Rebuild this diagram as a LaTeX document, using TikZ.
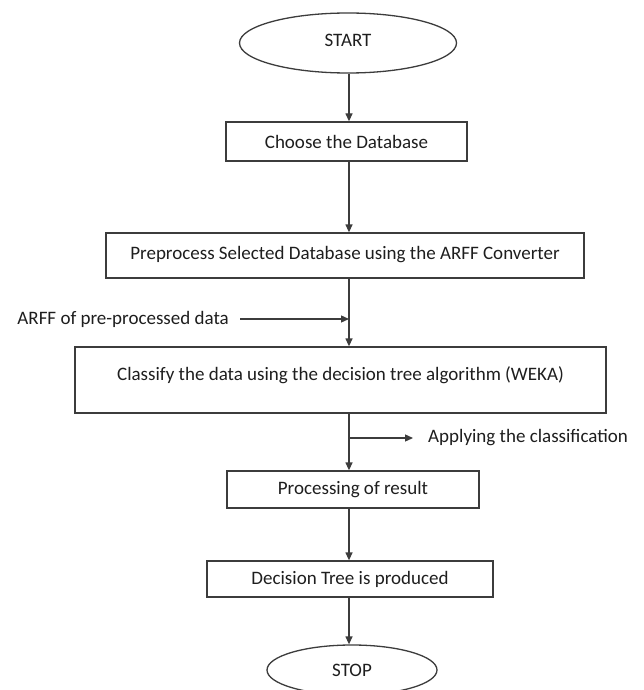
\documentclass[tikz,border=0pt]{standalone}
\usepackage{fontspec}
\setmainfont{Carlito}
\usetikzlibrary{arrows.meta,shapes.geometric}
\definecolor{linecol}{HTML}{3C3C3C}
\definecolor{textcol}{HTML}{1E1E1E}
\begin{document}
\begin{tikzpicture}[x=1pt,y=-1pt,
  font=\fontsize{19}{22}\selectfont,
  every node/.style={text=textcol},
  box/.style={draw=linecol,line width=1.3pt,rectangle,inner sep=0pt},
  oval/.style={draw=linecol,line width=1.3pt,ellipse,inner sep=0pt},
  arr/.style={draw=linecol,line width=1.3pt,-{Triangle[length=8pt,width=7pt]}},
  plain/.style={inner sep=0pt}]
\useasboundingbox[fill=white] (0,0) rectangle (643,690);

\node[oval,minimum width=217pt,minimum height=60pt] (start) at (348,43) {\raisebox{6pt}{START}};
\node[box,minimum width=241pt,minimum height=39pt] (choose) at (346.5,141.5) {Choose the Database};
\node[box,minimum width=478pt,minimum height=45pt] (prep) at (345,255.5) {\raisebox{5pt}{Preprocess Selected Database using the ARFF Converter}};
\node[box,minimum width=531pt,minimum height=66pt] (class) at (340.5,380) {\raisebox{13pt}{Classify the data using the decision tree algorithm (WEKA)}};
\node[box,minimum width=252pt,minimum height=37pt] (proc) at (353,489.5) {Processing of result};
\node[box,minimum width=286pt,minimum height=36pt] (dec) at (350,579) {Decision Tree is produced};
\node[oval,minimum width=170pt,minimum height=50pt] (stop) at (352,670) {STOP};

\node[plain,anchor=east] (arff) at (229,319) {ARFF of pre-processed data};
\node[plain,anchor=west] (app) at (428,438) {Applying the classification};

\coordinate (s1) at (349,0);

\draw[arr] (s1 |- start.south) -- (s1 |- choose.north);
\draw[arr] (s1 |- choose.south) -- (s1 |- prep.north);
\draw[arr] (s1 |- prep.south) -- (s1 |- class.north);
\draw[arr] ([xshift=11pt]arff.east) -- (s1 |- arff.east);
\draw[arr] (s1 |- class.south) -- (s1 |- proc.north);
\draw[arr] (s1 |- app.west) -- ([xshift=-15pt]app.west);
\draw[arr] (s1 |- proc.south) -- (s1 |- dec.north);
\draw[arr] (s1 |- dec.south) -- (s1 |- stop.north);
\end{tikzpicture}
\end{document}
